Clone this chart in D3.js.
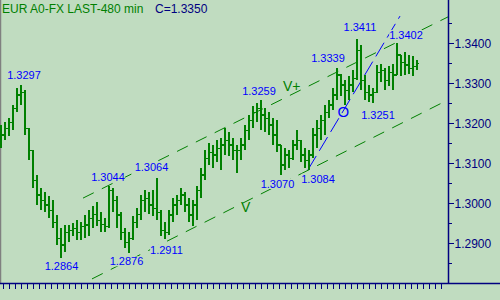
<!DOCTYPE html>
<html>
<head>
<meta charset="utf-8">
<script src="https://cdn.jsdelivr.net/npm/d3@7"></script>
<style>
  body { margin: 0; background: #c0dcc0; }
  svg { display: block; font-family: Arial, "Liberation Sans", sans-serif; }
</style>
</head>
<body>
<div id="chart"></div>
<script>
// 480-min bars, EUR A0-FX
const highs = [1.3196,1.3203,1.3213,1.3246,1.3288,1.3297,1.3283,1.3188,1.3133,1.3071,
  1.3038,1.3028,1.3018,1.3008,1.2971,1.2938,1.2946,1.2946,1.2951,1.2958,
  1.2953,1.2971,1.2983,1.2993,1.3003,1.2978,1.2963,1.3044,1.3038,1.3018,
  1.2978,1.2938,1.2928,1.2968,1.2988,1.3021,1.3033,1.3028,1.3033,1.3064,
  1.2983,1.2953,1.2983,1.3013,1.3021,1.3038,1.3028,1.3013,1.3008,1.3043,
  1.3088,1.3133,1.3151,1.3146,1.3158,1.3163,1.3188,1.3178,1.3163,1.3146,
  1.3163,1.3196,1.3221,1.3243,1.3251,1.3259,1.3238,1.3228,1.3213,1.3208,
  1.3146,1.3138,1.3133,1.3158,1.3183,1.3158,1.3138,1.3133,1.3188,1.3208,
  1.3221,1.3246,1.3258,1.3288,1.3339,1.3323,1.3308,1.3318,1.3333,1.3411,
  1.3396,1.3321,1.3296,1.3288,1.3346,1.3348,1.3338,1.3343,1.3348,1.3402,
  1.3371,1.3378,1.3371,1.3368,1.3358];
const lows = [1.3138,1.3158,1.3168,1.3183,1.3228,1.3246,1.3171,1.3108,1.3038,1.2996,
  1.2983,1.2978,1.2963,1.2938,1.2896,1.2864,1.2878,1.2903,1.2918,1.2908,
  1.2908,1.2913,1.2918,1.2938,1.2943,1.2928,1.2928,1.2938,1.2978,1.2938,
  1.2908,1.2888,1.2876,1.2908,1.2938,1.2958,1.2978,1.2973,1.2968,1.2958,
  1.2918,1.2911,1.2921,1.2953,1.2971,1.2996,1.2978,1.2953,1.2943,1.2958,
  1.3013,1.3058,1.3096,1.3088,1.3103,1.3083,1.3121,1.3118,1.3108,1.3076,
  1.3108,1.3133,1.3158,1.3188,1.3203,1.3183,1.3178,1.3171,1.3146,1.3128,
  1.3070,1.3083,1.3088,1.3108,1.3133,1.3103,1.3088,1.3084,1.3113,1.3138,
  1.3158,1.3171,1.3213,1.3233,1.3258,1.3268,1.3246,1.3258,1.3278,1.3308,
  1.3283,1.3258,1.3253,1.3251,1.3276,1.3303,1.3283,1.3293,1.3283,1.3321,
  1.3318,1.3321,1.3323,1.3318,1.3333];
const closes = [1.3171,1.3188,1.3203,1.3238,1.3271,1.3278,1.3188,1.3133,1.3058,1.3021,
  1.3008,1.2996,1.2983,1.2953,1.2913,1.2896,1.2928,1.2933,1.2938,1.2928,
  1.2943,1.2946,1.2963,1.2973,1.2958,1.2948,1.2943,1.3033,1.3008,1.2971,
  1.2928,1.2903,1.2913,1.2953,1.2973,1.3008,1.3013,1.2996,1.2988,1.2978,
  1.2933,1.2928,1.2971,1.2996,1.3008,1.3021,1.2996,1.2971,1.2996,1.3033,
  1.3071,1.3113,1.3128,1.3121,1.3138,1.3146,1.3158,1.3146,1.3133,1.3133,
  1.3146,1.3183,1.3208,1.3228,1.3238,1.3221,1.3213,1.3196,1.3171,1.3146,
  1.3096,1.3121,1.3113,1.3146,1.3158,1.3121,1.3108,1.3121,1.3171,1.3188,
  1.3208,1.3228,1.3246,1.3271,1.3321,1.3296,1.3283,1.3296,1.3313,1.3383,
  1.3308,1.3278,1.3271,1.3278,1.3328,1.3333,1.3308,1.3328,1.3321,1.3371,
  1.3353,1.3346,1.3338,1.3343,1.3350];
const firstOpen = 1.3180;

// trend lines as [bar index, price]
const upperChannel = [[20.5, 1.3013], [111.75, 1.3466]];
const lowerChannel = [[22.75, 1.2811], [110.25, 1.3251]];
const blueTrend = [[76.75, 1.3084], [99.75, 1.3468]];

// price labels: text, bar index, price
const priceLabels = [
  ["1.3297", 5, 1.3297], ["1.2864", 15, 1.2864], ["1.2876", 32, 1.2876],
  ["1.2911", 41, 1.2911], ["1.3044", 27, 1.3044], ["1.3064", 39, 1.3064],
  ["1.3259", 65, 1.3259], ["1.3070", 70, 1.3070], ["1.3084", 77, 1.3084],
  ["1.3251", 93, 1.3251], ["1.3339", 84, 1.3339], ["1.3411", 89, 1.3411],
  ["1.3402", 99, 1.3402]
];
// label offsets from the point, px
const labelOffsets = [[3,-5.5],[0.5,12.5],[-2.5,12.5],[1.5,15],[-1,-5],[-5.5,-7],
  [-2,-5],[-3.5,12.7],[9,13],[5,16],[-9,-6],[3,-8],[9,-3.5]];

const axisTicks = d3.range(1.285, 1.3451, 0.005);
const title = "EUR A0-FX LAST-480 min";
const lastText = "C=1.3350";

const width = 500, height = 300;
const bg = "#c0dcc0", green = "#008000", navy = "#000080", blue = "#0000ff";

const svg = d3.select("#chart").append("svg")
  .attr("width", width).attr("height", height);

svg.append("rect").attr("width", width).attr("height", height).attr("fill", bg);

const x = d3.scaleLinear().domain([0, highs.length - 1]).range([1, 417]);
const y = d3.scaleLinear().domain([1.29, 1.34]).range([243.3, 43.3]);

// left border
svg.append("line").attr("x1", 0.5).attr("x2", 0.5).attr("y1", 0).attr("y2", 283)
  .attr("stroke", "#808080").attr("stroke-width", 1.5);

// trend lines
const line = d3.line().x(d => x(d[0])).y(d => y(d[1]));
svg.append("path").attr("d", line(upperChannel)).attr("fill", "none")
  .attr("stroke", green).attr("stroke-dasharray", "12,9");
svg.append("path").attr("d", line(lowerChannel)).attr("fill", "none")
  .attr("stroke", green).attr("stroke-dasharray", "12,9");
svg.append("path").attr("d", line(blueTrend)).attr("fill", "none")
  .attr("stroke", blue).attr("stroke-dasharray", "16,6");

// bars
const bars = highs.map((h, i) => ({
  i: i, high: h, low: lows[i], close: closes[i], open: i ? closes[i - 1] : firstOpen
}));
const g = svg.append("g").attr("stroke", green).attr("stroke-width", 1.6)
  .attr("shape-rendering", "crispEdges");
g.selectAll("line.hl").data(bars).join("line").attr("class", "hl")
  .attr("x1", d => x(d.i)).attr("x2", d => x(d.i))
  .attr("y1", d => y(d.high)).attr("y2", d => y(d.low));
g.selectAll("line.op").data(bars).join("line").attr("class", "op")
  .attr("stroke-width", 1.2)
  .attr("x1", d => x(d.i) - 2).attr("x2", d => x(d.i))
  .attr("y1", d => y(d.open)).attr("y2", d => y(d.open));
g.selectAll("line.cl").data(bars).join("line").attr("class", "cl")
  .attr("stroke-width", 1.2)
  .attr("x1", d => x(d.i)).attr("x2", d => x(d.i) + 2)
  .attr("y1", d => y(d.close)).attr("y2", d => y(d.close));

// text with an opaque box behind it
function boxedText(px, py, txt, color, size, anchor) {
  const t = svg.append("text").attr("x", px).attr("y", py)
    .attr("fill", color).attr("font-size", size)
    .attr("text-anchor", anchor || "middle").text(txt);
  const b = t.node().getBBox();
  svg.insert("rect", () => t.node())
    .attr("x", b.x).attr("y", b.y + 1).attr("width", b.width).attr("height", b.height - 2)
    .attr("fill", bg);
  return t;
}

priceLabels.forEach((d, k) => {
  const o = labelOffsets[k];
  boxedText(x(d[1]) + o[0], y(d[2]) + o[1], d[0], blue, 11);
});

svg.append("text").attr("x", 283).attr("y", 91).attr("fill", green)
  .attr("font-size", 14).text("V+");
svg.append("text").attr("x", 241).attr("y", 212).attr("fill", green)
  .attr("font-size", 14).text("V");
svg.append("text").attr("x", 337.5).attr("y", 117).attr("fill", blue)
  .attr("font-size", 15).text("O");

// title
svg.append("text").attr("x", 2).attr("y", 12.5).attr("fill", green)
  .attr("font-size", 12).text(title);
svg.append("text").attr("x", 155).attr("y", 12.5).attr("fill", navy)
  .attr("font-size", 12).text(lastText);

// right axis
const yAxis = d3.axisRight(y).tickValues(axisTicks).tickSize(5).tickPadding(1)
  .tickFormat(v => Math.round(v * 10000) % 100 === 0 ? d3.format(".4f")(v) : "");
const ya = svg.append("g").attr("transform", "translate(448.5,0)").call(yAxis);
ya.select(".domain").remove();
ya.selectAll("line").attr("stroke", navy).attr("shape-rendering", "crispEdges")
  .attr("x2", v => Math.round(v * 10000) % 100 === 0 ? 5 : 3);
ya.selectAll("text").attr("fill", navy).attr("font-size", 12)
  .attr("font-family", "Arial, 'Liberation Sans', sans-serif");
svg.append("line").attr("x1", 448.5).attr("x2", 448.5).attr("y1", 0).attr("y2", 283)
  .attr("stroke", navy).attr("stroke-width", 1.5);

// bottom axis
const xAxis = d3.axisBottom(x).tickValues(d3.range(74).map(k => 0.425 + 1.5 * k))
  .tickSize(6).tickFormat("");
const xa = svg.append("g").attr("transform", "translate(0,283)").call(xAxis);
xa.select(".domain").remove();
xa.selectAll("line").attr("stroke", navy).attr("shape-rendering", "crispEdges");
svg.append("line").attr("x1", 0).attr("x2", width).attr("y1", 283.5).attr("y2", 283.5)
  .attr("stroke", navy).attr("stroke-width", 1.5);
</script>
</body>
</html>
